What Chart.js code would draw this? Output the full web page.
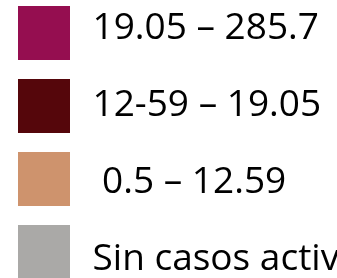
<!DOCTYPE html>
<html>
<head>
<meta charset="utf-8">
<script src="https://cdn.jsdelivr.net/npm/chart.js@4.4.1/dist/chart.umd.min.js"></script>
<style>
  html, body { margin: 0; padding: 0; background: #fff; overflow: hidden; width: 337px; height: 278px; }
  #legend-chart { position: absolute; left: -22px; top: -30px; }
</style>
</head>
<body>
<canvas id="legend-chart" width="440" height="400"></canvas>
<script>
// rangos de casos activos
const ranges = ['19.05 – 285.7', '12-59 – 19.05', ' 0.5 – 12.59', 'Sin casos activos'];
const colors = ['#950E50', '#55060B', '#CE936D', '#AAA9A7'];

// square swatch used as the legend point style
// (squares sit a little tighter than the text rows, so each one moves up 4px)
function swatch(color, i) {
    const c = document.createElement('canvas');
    c.width = 56;
    c.height = 81;
    const g = c.getContext('2d');
    g.fillStyle = color;
    g.fillRect(0, 18 - 4 * i, 52, 54);
    return c;
}

document.addEventListener("DOMContentLoaded", function () {
    const ctx = document.getElementById('legend-chart').getContext('2d');

    new Chart(ctx, {
        type: 'bar',
        data: {
            labels: [],
            datasets: ranges.map((r, i) => ({
                label: r,
                data: [],
                backgroundColor: colors[i]
            }))
        },
        options: {
            responsive: false,
            animation: false,
            scales: {
                x: { display: false },
                y: { display: false }
            },
            plugins: {
                tooltip: { enabled: false },
                legend: {
                    position: 'chartArea',
                    align: 'start',
                    labels: {
                        usePointStyle: true,
                        pointStyleWidth: 56,
                        padding: 40,
                        color: '#000',
                        font: { family: 'Open Sans', size: 37 },
                        generateLabels: chart => chart.data.datasets.map((ds, i) => ({
                            text: ds.label,
                            fillStyle: ds.backgroundColor,
                            strokeStyle: ds.backgroundColor,
                            lineWidth: 0,
                            pointStyle: swatch(ds.backgroundColor, i),
                            hidden: false,
                            datasetIndex: i
                        }))
                    }
                }
            }
        }
    });
});
</script>
</body>
</html>
